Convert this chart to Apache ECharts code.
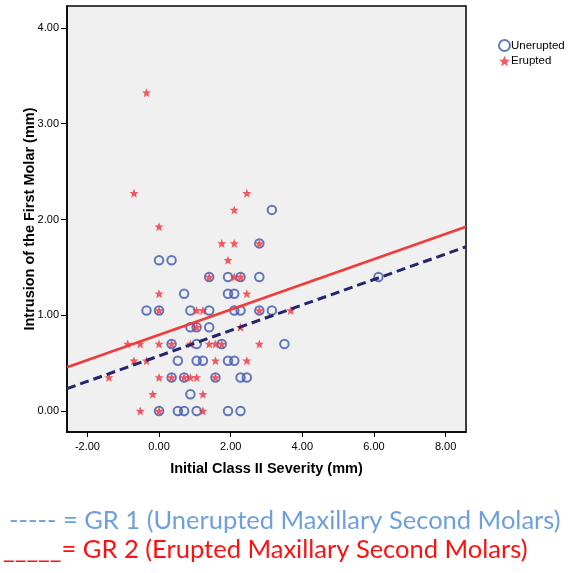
<!DOCTYPE html>
<html>
<head>
<meta charset="utf-8">
<script src="https://cdn.jsdelivr.net/npm/echarts@6/dist/echarts.min.js"></script>
<style>
  html, body { margin: 0; padding: 0; background: #ffffff; }
  #chart { width: 571px; height: 573px; }
</style>
</head>
<body>
<div id="chart"></div>
<script>
// Initial Class II severity (mm) vs. intrusion of the first molar (mm)
const unerupted = [
  [0, 0], [0.525, 0], [0.7, 0], [1.05, 0], [1.925, 0], [2.275, 0],
  [0.875, 0.175],
  [0.35, 0.35], [0.7, 0.35], [1.575, 0.35], [2.275, 0.35], [2.45, 0.35],
  [0.525, 0.525], [1.05, 0.525], [1.225, 0.525], [1.925, 0.525], [2.1, 0.525],
  [0.35, 0.7], [1.05, 0.7], [1.75, 0.7], [3.5, 0.7],
  [0.875, 0.875], [1.05, 0.875], [1.4, 0.875],
  [-0.35, 1.05], [0, 1.05], [0.875, 1.05], [1.4, 1.05], [2.1, 1.05], [2.275, 1.05], [2.8, 1.05], [3.15, 1.05],
  [0.7, 1.225], [1.925, 1.225], [2.1, 1.225],
  [1.4, 1.4], [1.925, 1.4], [2.275, 1.4], [2.8, 1.4], [6.125, 1.4],
  [0, 1.575], [0.35, 1.575],
  [2.8, 1.75],
  [3.15, 2.1]
];

const erupted = [
  [-0.525, 0], [0, 0], [1.225, 0],
  [-0.175, 0.175], [1.225, 0.175],
  [-1.4, 0.35], [0, 0.35], [0.35, 0.35], [0.7, 0.35], [0.875, 0.35], [1.05, 0.35], [1.575, 0.35],
  [-0.7, 0.525], [-0.35, 0.525], [1.575, 0.525], [2.45, 0.525],
  [-0.875, 0.7], [-0.525, 0.7], [0, 0.7], [0.35, 0.7], [0.875, 0.7], [1.4, 0.7], [1.575, 0.7], [1.75, 0.7], [2.8, 0.7],
  [1.05, 0.875], [2.275, 0.875],
  [0, 1.05], [1.05, 1.05], [1.225, 1.05], [2.8, 1.05], [3.675, 1.05],
  [0, 1.225], [2.45, 1.225],
  [1.4, 1.4], [2.1, 1.4], [2.275, 1.4],
  [1.925, 1.575],
  [1.75, 1.75], [2.1, 1.75], [2.8, 1.75],
  [0, 1.925],
  [2.1, 2.1],
  [-0.7, 2.275], [2.45, 2.275],
  [-0.35, 3.325]
];

// Linear fits: [intercept, slope]
const fitUnerupted = [0.575, 0.133];
const fitErupted = [0.795, 0.1318];

const xTicks = [-2, 0, 2, 4, 6, 8];
const yTicks = [0, 1, 2, 3, 4];
const xRange = [-2.57, 8.57];
const yRange = [-0.22, 4.23];

const seriesNames = ['Unerupted', 'Erupted'];

function fitLine(fit) {
  return xRange.map(x => [x, fit[0] + fit[1] * x]);
}

const starPath = 'path://M0,-10 L2.6,-3.4 L9.5,-3.1 L4.1,1.3 L5.9,8.1 L0,4.3 L-5.9,8.1 L-4.1,1.3 L-9.5,-3.1 L-2.6,-3.4 Z';

const fmt = v => v.toFixed(2);
const axisFont = { fontFamily: 'Liberation Sans, Arial, sans-serif', fontSize: 11, color: '#000' };
const titleFont = { fontFamily: 'Liberation Sans, Arial, sans-serif', fontSize: 14.5, fontWeight: 'bold', color: '#000' };
const circleStyle = { color: 'rgba(0,0,0,0)', borderColor: '#3d57ad', borderWidth: 2 };

const chart = echarts.init(document.getElementById('chart'), null, { renderer: 'canvas' });

chart.setOption({
  animation: false,
  backgroundColor: '#ffffff',
  grid: {
    left: 67, top: 6, right: 105, bottom: 141,
    show: true, backgroundColor: '#f0f0f0', borderColor: '#000', borderWidth: 1.5
  },
  legend: {
    data: [
      { name: seriesNames[0], icon: 'circle', itemStyle: { color: 'rgba(0,0,0,0)', borderColor: '#3d57ad', borderWidth: 2 } },
      { name: seriesNames[1], icon: starPath }
    ],
    orient: 'vertical',
    left: 493, top: 34,
    itemWidth: 11, itemHeight: 11, itemGap: 3,
    textStyle: Object.assign({}, axisFont, { fontSize: 11.5, padding: [0, 0, 0, -4] })
  },
  xAxis: {
    type: 'value',
    min: xRange[0], max: xRange[1],
    name: 'Initial Class II Severity (mm)',
    nameLocation: 'middle', nameGap: 29,
    nameMoveOverlap: false,
    nameTextStyle: titleFont,
    axisLine: { show: true, onZero: false, lineStyle: { color: '#000', width: 1.5 } },
    axisTick: { show: true, customValues: xTicks, length: 5, lineStyle: { color: '#000' } },
    axisLabel: Object.assign({ customValues: xTicks, formatter: fmt, margin: 9 }, axisFont),
    splitLine: { show: false }
  },
  yAxis: {
    type: 'value',
    min: yRange[0], max: yRange[1],
    name: 'Intrusion of the First Molar (mm)',
    nameLocation: 'middle', nameGap: 30,
    nameMoveOverlap: false,
    nameTextStyle: titleFont,
    axisLine: { show: true, onZero: false, lineStyle: { color: '#000', width: 1.5 } },
    axisTick: { show: true, customValues: yTicks, length: 6, lineStyle: { color: '#000' } },
    axisLabel: Object.assign({ customValues: yTicks, formatter: fmt, margin: 8 }, axisFont),
    splitLine: { show: false }
  },
  series: [
    {
      name: seriesNames[0],
      type: 'scatter',
      data: unerupted,
      symbol: 'circle',
      symbolSize: 8.5,
      itemStyle: circleStyle,
      z: 2
    },
    {
      name: seriesNames[1],
      type: 'scatter',
      data: erupted,
      symbol: starPath,
      symbolSize: 9,
      itemStyle: { color: '#f0333c' },
      z: 3
    },
    {
      name: 'Fit Unerupted',
      type: 'line',
      data: fitLine(fitUnerupted),
      symbol: 'none',
      lineStyle: { color: '#25256e', width: 3, type: [9, 5] },
      z: 4,
      silent: true
    },
    {
      name: 'Fit Erupted',
      type: 'line',
      data: fitLine(fitErupted),
      symbol: 'none',
      lineStyle: { color: '#f23a3a', width: 2.5 },
      z: 4,
      silent: true
    }
  ],
  graphic: [
    {
      type: 'text', left: 9, top: 508,
      style: {
        text: '----- = GR 1 (Unerupted Maxillary Second Molars)',
        fill: '#6f9fdc', font: '25.5px Lato, "Open Sans", sans-serif'
      }
    },
    {
      type: 'text', left: 3, top: 537,
      style: {
        text: '_____= GR 2 (Erupted Maxillary Second Molars)',
        fill: '#ff1010', font: '25.5px Lato, "Open Sans", sans-serif'
      }
    }
  ]
});
</script>
</body>
</html>
